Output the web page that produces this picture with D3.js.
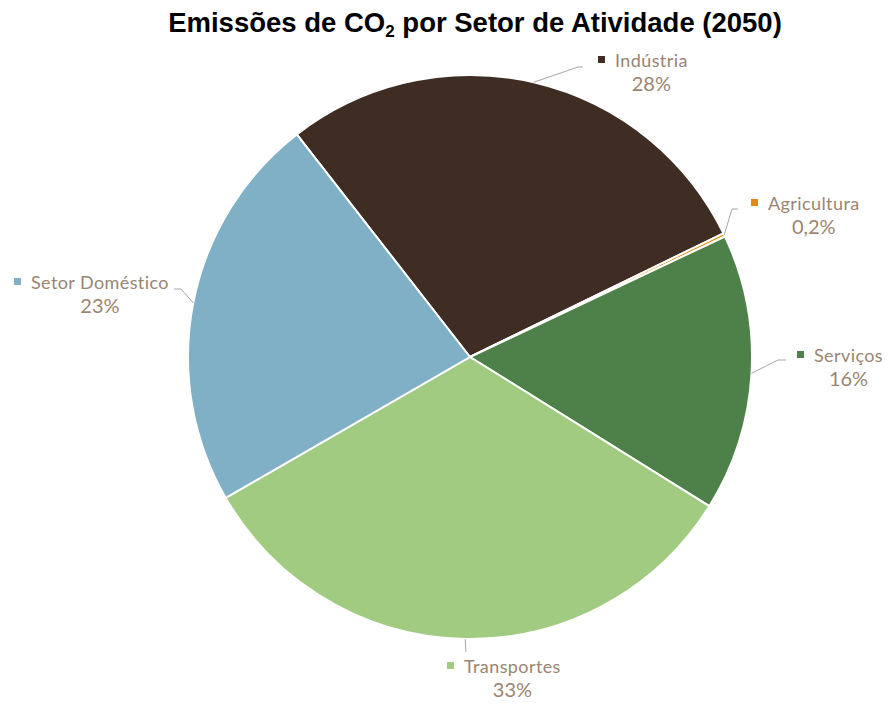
<!DOCTYPE html>
<html><head><meta charset="utf-8">
<script src="https://cdn.jsdelivr.net/npm/d3@7"></script>
<style>body{margin:0;background:#fff}svg{display:block}</style>
</head><body>
<svg id="chart" width="890" height="704"></svg>
<script>
const categories = ["Indústria", "Agricultura", "Serviços", "Transportes", "Setor Doméstico"];
const values = [28.3, 0.2, 15.9, 32.8, 22.8];
const percentLabels = ["28%", "0,2%", "16%", "33%", "23%"];
const colors = ["#3f2d23", "#e8870e", "#4e804a", "#a2cb82", "#80b0c5"];

// label layout (text start x, first baseline y, leader elbow and end)
const labelLayout = [
  {x: 615, y: 67,  elbow: [578, 67],  end: [583, 67]},
  {x: 768, y: 210, elbow: [732, 209], end: [738, 209]},
  {x: 814, y: 362, elbow: [778, 360], end: [786, 360]},
  {x: 464, y: 673, elbow: null,       end: [466, 652]},
  {x: 31,  y: 289, elbow: [181, 289], end: [174, 289]}
];

const svg = d3.select("#chart");
const cx = 470, cy = 357, R = 282;
const deg = Math.PI / 180;

const data = categories.map((c, i) => ({name: c, value: values[i], pct: percentLabels[i], color: colors[i], layout: labelLayout[i]}));
const pie = d3.pie().sort(null).value(d => d.value).startAngle(-37.9 * deg).endAngle(322.1 * deg);
const arcs = pie(data);
const arc = d3.arc().innerRadius(0).outerRadius(R);

const g = svg.append("g").attr("transform", `translate(${cx},${cy})`);
g.selectAll("path.slice").data(arcs).join("path")
  .attr("class", "slice")
  .attr("d", arc)
  .attr("fill", d => d.data.color)
  .attr("stroke", "#fff")
  .attr("stroke-width", 2)
  .attr("stroke-linejoin", "round");

// leader lines
const edgeArc = d3.arc().innerRadius(R).outerRadius(R);
arcs.forEach(a => {
  const c = edgeArc.centroid(a);
  const p0 = [cx + c[0], cy + c[1]];
  const L = a.data.layout;
  const pts = L.elbow ? [p0, L.elbow, L.end] : [p0, L.end];
  svg.append("path")
    .attr("d", d3.line()(pts))
    .attr("fill", "none")
    .attr("stroke", "#a6a6a6")
    .attr("stroke-width", 1);
});

// labels
const textColor = "#9a8571";
const fontFam = "Lato, 'Noto Sans', sans-serif";
arcs.forEach(a => {
  const L = a.data.layout;
  const name = svg.append("text")
    .attr("x", L.x).attr("y", L.y)
    .attr("font-family", fontFam).attr("font-size", 18)
    .attr("letter-spacing", 0.4)
    .attr("fill", textColor)
    .text(a.data.name);
  const w = name.node().getComputedTextLength();
  svg.append("rect")
    .attr("x", L.x - 17).attr("y", L.y - 11)
    .attr("width", 7).attr("height", 7)
    .attr("fill", a.data.color);
  svg.append("text")
    .attr("x", L.x + w / 2).attr("y", L.y + 24)
    .attr("text-anchor", "middle")
    .attr("font-family", fontFam).attr("font-size", 20)
    .attr("fill", textColor)
    .text(a.data.pct);
});

// title
const title = svg.append("text")
  .attr("x", 475).attr("y", 32)
  .attr("text-anchor", "middle")
  .attr("font-family", "'Liberation Sans', Arial, sans-serif")
  .attr("font-weight", "bold")
  .attr("font-size", 27.5)
  .attr("fill", "#000");
title.append("tspan").text("Emissões de CO");
title.append("tspan").attr("font-size", 17).attr("dy", 5).text("2");
title.append("tspan").attr("dy", -5).text(" por Setor de Atividade (2050)");
</script>
</body></html>
